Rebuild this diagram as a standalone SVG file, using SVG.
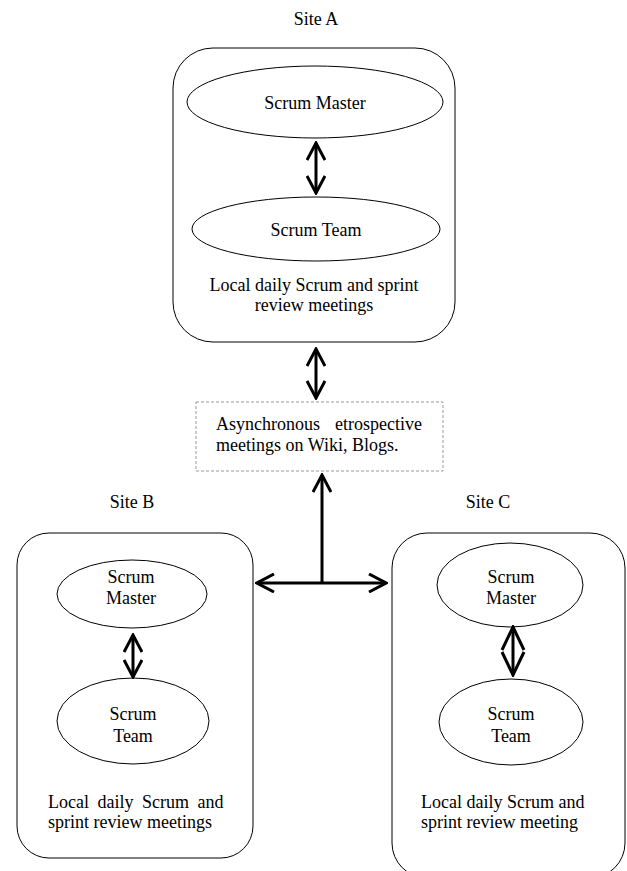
<svg xmlns="http://www.w3.org/2000/svg" width="627" height="871" viewBox="0 0 627 871">
<style>
text{font-family:"Liberation Serif","Times New Roman",serif;font-size:18px;fill:#000}
.c{text-anchor:middle}
.box{fill:none;stroke:#000;stroke-width:1}
.ell{fill:#fff;stroke:#000;stroke-width:1}
.arr{fill:none;stroke:#000;stroke-width:3}
</style>
<defs>
<marker id="chev" viewBox="0 0 20 20" refX="18" refY="10" markerWidth="20" markerHeight="20" markerUnits="userSpaceOnUse" orient="auto-start-reverse">
<path d="M1,1 L18,10 L1,19" fill="none" stroke="#000" stroke-width="3"/>
</marker>
<marker id="chevL" viewBox="0 0 26 26" refX="24" refY="13" markerWidth="26" markerHeight="26" markerUnits="userSpaceOnUse" orient="auto-start-reverse">
<path d="M1,2 L24,13 L1,24" fill="none" stroke="#000" stroke-width="3"/>
</marker>
</defs>
<rect width="627" height="871" fill="#fff"/>

<g id="siteA">
<text class="c" x="316" y="25">Site A</text>
<rect class="box" x="173" y="48" width="282" height="294" rx="40" ry="40"/>
<text class="c" x="314" y="291">Local daily Scrum and sprint</text>
<text class="c" x="314" y="311">review meetings</text>
</g>
<g id="masterA">
<ellipse class="ell" cx="315" cy="102" rx="128" ry="36"/>
<text class="c" x="315" y="109">Scrum Master</text>
</g>
<g id="teamA">
<ellipse class="ell" cx="316" cy="229" rx="124" ry="32"/>
<text class="c" x="316" y="236">Scrum Team</text>
</g>

<g id="async">
<rect x="196" y="402" width="247" height="69" fill="none" stroke="#999" stroke-width="1" stroke-dasharray="3 2"/>
<text x="216" y="430" word-spacing="10.5">Asynchronous etrospective</text>
<text x="216" y="451">meetings on Wiki, Blogs.</text>
</g>

<g id="siteB">
<text class="c" x="132" y="508">Site B</text>
<rect class="box" x="17" y="533" width="236" height="325" rx="32" ry="32"/>
<text x="48" y="808" word-spacing="4">Local daily Scrum and</text>
<text x="48" y="828">sprint review meetings</text>
</g>
<g id="masterB">
<ellipse class="ell" cx="132" cy="594" rx="75" ry="34"/>
<text class="c" x="131" y="583">Scrum</text>
<text class="c" x="131" y="604">Master</text>
</g>
<g id="teamB">
<ellipse class="ell" cx="133" cy="721" rx="76" ry="43"/>
<text class="c" x="133" y="720">Scrum</text>
<text class="c" x="133" y="742">Team</text>
</g>

<g id="siteC">
<text class="c" x="488" y="508">Site C</text>
<rect class="box" x="392" y="533" width="233" height="345" rx="35" ry="35"/>
<text x="421" y="808">Local daily Scrum and</text>
<text x="421" y="828">sprint review meeting</text>
</g>
<g id="masterC">
<ellipse class="ell" cx="510" cy="585" rx="73" ry="42"/>
<text class="c" x="511" y="583">Scrum</text>
<text class="c" x="511" y="604">Master</text>
</g>
<g id="teamC">
<ellipse class="ell" cx="511" cy="722" rx="72" ry="43"/>
<text class="c" x="511" y="720">Scrum</text>
<text class="c" x="511" y="742">Team</text>
</g>

<g id="connectors">
<line class="arr" x1="316" y1="143" x2="316" y2="193" marker-start="url(#chev)" marker-end="url(#chev)"/>
<line class="arr" x1="316" y1="349" x2="316" y2="398" marker-start="url(#chev)" marker-end="url(#chev)"/>
<line class="arr" x1="322" y1="583" x2="322" y2="475" marker-end="url(#chev)"/>
<line class="arr" x1="257" y1="583" x2="386" y2="583" marker-start="url(#chev)" marker-end="url(#chev)"/>
<line class="arr" x1="133" y1="635" x2="133" y2="677" marker-start="url(#chev)" marker-end="url(#chev)"/>
<line class="arr" x1="513" y1="627" x2="513" y2="675" marker-start="url(#chevL)" marker-end="url(#chevL)"/>
</g>
</svg>
